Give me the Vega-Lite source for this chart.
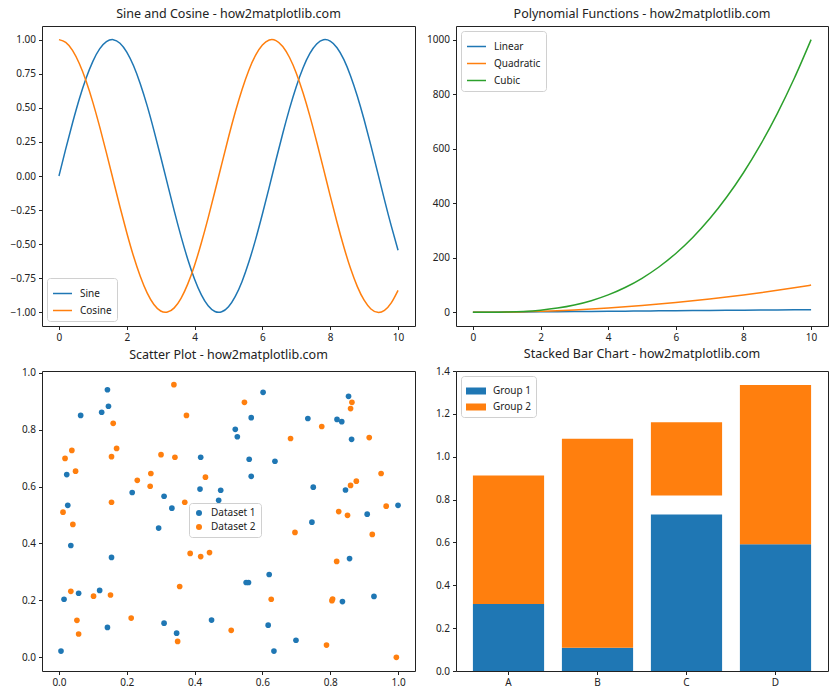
{
  "$schema": "https://vega.github.io/schema/vega-lite/v6.json",
  "padding": {"left": 9, "top": 7, "right": 5, "bottom": 5},
  "background": "white",
  "config": {
    "font": "Noto Sans",
    "view": {"stroke": "#222", "strokeWidth": 1},
    "axis": {"domain": false, "grid": false, "tickColor": "#222", "tickSize": 3.5, "labelFontSize": 10, "labelColor": "#222", "labelPadding": 3, "labelOverlap": false, "labelFlush": false},
    "title": {"fontSize": 12.5, "fontWeight": "normal", "offset": 6, "color": "#222"},
    "legend": {"fillColor": "rgba(255,255,255,0.8)", "strokeColor": "#d0d0d0", "cornerRadius": 3, "padding": 5, "labelFontSize": 10, "labelColor": "#222", "symbolStrokeWidth": 1.5, "rowPadding": 1, "labelOffset": 7}
  },
  "bounds": "flush",
  "columns": 2,
  "spacing": {"row": 45, "column": 41},
  "resolve": {"scale": {"color": "independent", "x": "independent", "y": "independent"}, "legend": {"color": "independent"}},
  "concat": [
        {
          "width": 373, "height": 300,
          "title": "Sine and Cosine - how2matplotlib.com",
          "data": {"values": [
            {"x":0.0,"Sine":0.0,"Cosine":1.0},{"x":0.2,"Sine":0.199,"Cosine":0.980},{"x":0.4,"Sine":0.389,"Cosine":0.921},{"x":0.6,"Sine":0.565,"Cosine":0.825},{"x":0.8,"Sine":0.717,"Cosine":0.697},
            {"x":1.0,"Sine":0.841,"Cosine":0.540},{"x":1.2,"Sine":0.932,"Cosine":0.362},{"x":1.4,"Sine":0.985,"Cosine":0.170},{"x":1.6,"Sine":1.000,"Cosine":-0.029},{"x":1.8,"Sine":0.974,"Cosine":-0.227},
            {"x":2.0,"Sine":0.909,"Cosine":-0.416},{"x":2.2,"Sine":0.808,"Cosine":-0.589},{"x":2.4,"Sine":0.675,"Cosine":-0.737},{"x":2.6,"Sine":0.516,"Cosine":-0.857},{"x":2.8,"Sine":0.335,"Cosine":-0.942},
            {"x":3.0,"Sine":0.141,"Cosine":-0.990},{"x":3.2,"Sine":-0.058,"Cosine":-0.998},{"x":3.4,"Sine":-0.256,"Cosine":-0.967},{"x":3.6,"Sine":-0.443,"Cosine":-0.897},{"x":3.8,"Sine":-0.612,"Cosine":-0.791},
            {"x":4.0,"Sine":-0.757,"Cosine":-0.654},{"x":4.2,"Sine":-0.872,"Cosine":-0.490},{"x":4.4,"Sine":-0.952,"Cosine":-0.307},{"x":4.6,"Sine":-0.994,"Cosine":-0.112},{"x":4.8,"Sine":-0.996,"Cosine":0.087},
            {"x":5.0,"Sine":-0.959,"Cosine":0.284},{"x":5.2,"Sine":-0.883,"Cosine":0.469},{"x":5.4,"Sine":-0.773,"Cosine":0.635},{"x":5.6,"Sine":-0.631,"Cosine":0.776},{"x":5.8,"Sine":-0.465,"Cosine":0.886},
            {"x":6.0,"Sine":-0.279,"Cosine":0.960},{"x":6.2,"Sine":-0.083,"Cosine":0.997},{"x":6.4,"Sine":0.117,"Cosine":0.993},{"x":6.6,"Sine":0.312,"Cosine":0.950},{"x":6.8,"Sine":0.494,"Cosine":0.869},
            {"x":7.0,"Sine":0.657,"Cosine":0.754},{"x":7.2,"Sine":0.794,"Cosine":0.608},{"x":7.4,"Sine":0.899,"Cosine":0.439},{"x":7.6,"Sine":0.968,"Cosine":0.251},{"x":7.8,"Sine":0.999,"Cosine":0.054},
            {"x":8.0,"Sine":0.989,"Cosine":-0.146},{"x":8.2,"Sine":0.941,"Cosine":-0.339},{"x":8.4,"Sine":0.855,"Cosine":-0.519},{"x":8.6,"Sine":0.734,"Cosine":-0.679},{"x":8.8,"Sine":0.585,"Cosine":-0.811},
            {"x":9.0,"Sine":0.412,"Cosine":-0.911},{"x":9.2,"Sine":0.223,"Cosine":-0.975},{"x":9.4,"Sine":0.025,"Cosine":-1.000},{"x":9.6,"Sine":-0.175,"Cosine":-0.985},{"x":9.8,"Sine":-0.366,"Cosine":-0.931},
            {"x":10.0,"Sine":-0.544,"Cosine":-0.839}
          ]},
          "transform": [{"fold": ["Sine", "Cosine"], "as": ["series", "value"]}],
          "mark": {"type": "line", "interpolate": "natural", "strokeWidth": 1.5},
          "encoding": {
            "x": {"field": "x", "type": "quantitative", "scale": {"domain": [-0.5, 10.5], "nice": false, "zero": false}, "axis": {"title": null, "values": [0, 2, 4, 6, 8, 10], "format": "d"}},
            "y": {"field": "value", "type": "quantitative", "scale": {"domain": [-1.1, 1.1], "nice": false, "zero": false}, "axis": {"title": null, "values": [-1, -0.75, -0.5, -0.25, 0, 0.25, 0.5, 0.75, 1], "format": ".2f"}},
            "color": {"field": "series", "type": "nominal", "scale": {"domain": ["Sine", "Cosine"], "range": ["#1f77b4", "#ff7f0e"]}, "legend": {"title": null, "orient": "bottom-left", "offset": 5, "symbolType": "stroke", "symbolSize": 360}}
          }
        },
        {
          "width": 372, "height": 300,
          "title": "Polynomial Functions - how2matplotlib.com",
          "data": {"values": [
            {"x":0,"Linear":0,"Quadratic":0,"Cubic":0},{"x":0.5,"Linear":0.5,"Quadratic":0.25,"Cubic":0.125},{"x":1,"Linear":1,"Quadratic":1,"Cubic":1},
            {"x":1.5,"Linear":1.5,"Quadratic":2.25,"Cubic":3.375},{"x":2,"Linear":2,"Quadratic":4,"Cubic":8},{"x":2.5,"Linear":2.5,"Quadratic":6.25,"Cubic":15.625},
            {"x":3,"Linear":3,"Quadratic":9,"Cubic":27},{"x":3.5,"Linear":3.5,"Quadratic":12.25,"Cubic":42.875},{"x":4,"Linear":4,"Quadratic":16,"Cubic":64},
            {"x":4.5,"Linear":4.5,"Quadratic":20.25,"Cubic":91.125},{"x":5,"Linear":5,"Quadratic":25,"Cubic":125},{"x":5.5,"Linear":5.5,"Quadratic":30.25,"Cubic":166.375},
            {"x":6,"Linear":6,"Quadratic":36,"Cubic":216},{"x":6.5,"Linear":6.5,"Quadratic":42.25,"Cubic":274.625},{"x":7,"Linear":7,"Quadratic":49,"Cubic":343},
            {"x":7.5,"Linear":7.5,"Quadratic":56.25,"Cubic":421.875},{"x":8,"Linear":8,"Quadratic":64,"Cubic":512},{"x":8.5,"Linear":8.5,"Quadratic":72.25,"Cubic":614.125},
            {"x":9,"Linear":9,"Quadratic":81,"Cubic":729},{"x":9.5,"Linear":9.5,"Quadratic":90.25,"Cubic":857.375},{"x":10,"Linear":10,"Quadratic":100,"Cubic":1000}
          ]},
          "transform": [{"fold": ["Linear", "Quadratic", "Cubic"], "as": ["series", "value"]}],
          "mark": {"type": "line", "interpolate": "monotone", "strokeWidth": 1.5},
          "encoding": {
            "x": {"field": "x", "type": "quantitative", "scale": {"domain": [-0.5, 10.5], "nice": false, "zero": false}, "axis": {"title": null, "values": [0, 2, 4, 6, 8, 10], "format": "d"}},
            "y": {"field": "value", "type": "quantitative", "scale": {"domain": [-50, 1050], "nice": false, "zero": false}, "axis": {"title": null, "values": [0, 200, 400, 600, 800, 1000], "format": "d"}},
            "color": {"field": "series", "type": "nominal", "scale": {"domain": ["Linear", "Quadratic", "Cubic"], "range": ["#1f77b4", "#ff7f0e", "#2ca02c"]}, "legend": {"title": null, "orient": "top-left", "offset": 5, "symbolType": "stroke", "symbolSize": 360}}
          }
        },
        {
          "width": 373, "height": 300,
          "title": "Scatter Plot - how2matplotlib.com",
          "data": {"values": [
            {"x":0.143,"y":0.940,"d":"Dataset 1"},{"x":0.146,"y":0.882,"d":"Dataset 1"},{"x":0.126,"y":0.861,"d":"Dataset 1"},{"x":0.064,"y":0.850,"d":"Dataset 1"},{"x":0.418,"y":0.703,"d":"Dataset 1"},
            {"x":0.023,"y":0.642,"d":"Dataset 1"},{"x":0.416,"y":0.591,"d":"Dataset 1"},{"x":0.477,"y":0.587,"d":"Dataset 1"},{"x":0.216,"y":0.579,"d":"Dataset 1"},{"x":0.310,"y":0.566,"d":"Dataset 1"},
            {"x":0.471,"y":0.552,"d":"Dataset 1"},{"x":0.333,"y":0.524,"d":"Dataset 1"},{"x":0.026,"y":0.534,"d":"Dataset 1"},{"x":0.602,"y":0.931,"d":"Dataset 1"},{"x":0.854,"y":0.917,"d":"Dataset 1"},
            {"x":0.567,"y":0.842,"d":"Dataset 1"},{"x":0.734,"y":0.839,"d":"Dataset 1"},{"x":0.820,"y":0.836,"d":"Dataset 1"},{"x":0.834,"y":0.828,"d":"Dataset 1"},{"x":0.520,"y":0.801,"d":"Dataset 1"},
            {"x":0.526,"y":0.775,"d":"Dataset 1"},{"x":0.863,"y":0.766,"d":"Dataset 1"},{"x":0.561,"y":0.696,"d":"Dataset 1"},{"x":0.637,"y":0.689,"d":"Dataset 1"},{"x":0.567,"y":0.636,"d":"Dataset 1"},
            {"x":0.750,"y":0.598,"d":"Dataset 1"},{"x":0.845,"y":0.588,"d":"Dataset 1"},{"x":1.000,"y":0.534,"d":"Dataset 1"},{"x":0.909,"y":0.503,"d":"Dataset 1"},{"x":0.294,"y":0.454,"d":"Dataset 1"},
            {"x":0.035,"y":0.393,"d":"Dataset 1"},{"x":0.155,"y":0.351,"d":"Dataset 1"},{"x":0.015,"y":0.204,"d":"Dataset 1"},{"x":0.058,"y":0.225,"d":"Dataset 1"},{"x":0.120,"y":0.235,"d":"Dataset 1"},
            {"x":0.143,"y":0.105,"d":"Dataset 1"},{"x":0.310,"y":0.120,"d":"Dataset 1"},{"x":0.347,"y":0.085,"d":"Dataset 1"},{"x":0.450,"y":0.131,"d":"Dataset 1"},{"x":0.006,"y":0.022,"d":"Dataset 1"},
            {"x":0.746,"y":0.475,"d":"Dataset 1"},{"x":0.857,"y":0.347,"d":"Dataset 1"},{"x":0.620,"y":0.291,"d":"Dataset 1"},{"x":0.552,"y":0.263,"d":"Dataset 1"},{"x":0.559,"y":0.263,"d":"Dataset 1"},
            {"x":0.929,"y":0.214,"d":"Dataset 1"},{"x":0.836,"y":0.196,"d":"Dataset 1"},{"x":0.617,"y":0.113,"d":"Dataset 1"},{"x":0.699,"y":0.060,"d":"Dataset 1"},{"x":0.634,"y":0.022,"d":"Dataset 1"},
            {"x":0.339,"y":0.958,"d":"Dataset 2"},{"x":0.376,"y":0.850,"d":"Dataset 2"},{"x":0.160,"y":0.822,"d":"Dataset 2"},{"x":0.038,"y":0.727,"d":"Dataset 2"},{"x":0.170,"y":0.734,"d":"Dataset 2"},
            {"x":0.018,"y":0.699,"d":"Dataset 2"},{"x":0.155,"y":0.705,"d":"Dataset 2"},{"x":0.301,"y":0.712,"d":"Dataset 2"},{"x":0.342,"y":0.703,"d":"Dataset 2"},{"x":0.049,"y":0.654,"d":"Dataset 2"},
            {"x":0.432,"y":0.633,"d":"Dataset 2"},{"x":0.271,"y":0.646,"d":"Dataset 2"},{"x":0.231,"y":0.622,"d":"Dataset 2"},{"x":0.269,"y":0.601,"d":"Dataset 2"},{"x":0.155,"y":0.545,"d":"Dataset 2"},
            {"x":0.371,"y":0.545,"d":"Dataset 2"},{"x":0.012,"y":0.510,"d":"Dataset 2"},{"x":0.547,"y":0.896,"d":"Dataset 2"},{"x":0.864,"y":0.896,"d":"Dataset 2"},{"x":0.860,"y":0.874,"d":"Dataset 2"},
            {"x":0.775,"y":0.811,"d":"Dataset 2"},{"x":0.683,"y":0.769,"d":"Dataset 2"},{"x":0.915,"y":0.772,"d":"Dataset 2"},{"x":0.950,"y":0.646,"d":"Dataset 2"},{"x":0.877,"y":0.619,"d":"Dataset 2"},
            {"x":0.860,"y":0.604,"d":"Dataset 2"},{"x":0.965,"y":0.531,"d":"Dataset 2"},{"x":0.825,"y":0.512,"d":"Dataset 2"},{"x":0.851,"y":0.499,"d":"Dataset 2"},{"x":0.041,"y":0.467,"d":"Dataset 2"},
            {"x":0.387,"y":0.365,"d":"Dataset 2"},{"x":0.418,"y":0.354,"d":"Dataset 2"},{"x":0.444,"y":0.368,"d":"Dataset 2"},{"x":0.356,"y":0.249,"d":"Dataset 2"},{"x":0.035,"y":0.232,"d":"Dataset 2"},
            {"x":0.102,"y":0.215,"d":"Dataset 2"},{"x":0.152,"y":0.219,"d":"Dataset 2"},{"x":0.213,"y":0.138,"d":"Dataset 2"},{"x":0.053,"y":0.130,"d":"Dataset 2"},{"x":0.058,"y":0.082,"d":"Dataset 2"},
            {"x":0.350,"y":0.056,"d":"Dataset 2"},{"x":0.508,"y":0.095,"d":"Dataset 2"},{"x":0.696,"y":0.439,"d":"Dataset 2"},{"x":0.924,"y":0.432,"d":"Dataset 2"},{"x":0.819,"y":0.337,"d":"Dataset 2"},
            {"x":0.626,"y":0.204,"d":"Dataset 2"},{"x":0.805,"y":0.199,"d":"Dataset 2"},{"x":0.807,"y":0.205,"d":"Dataset 2"},{"x":0.789,"y":0.043,"d":"Dataset 2"},{"x":0.995,"y":0.000,"d":"Dataset 2"}
          ]},
          "mark": {"type": "circle", "size": 32, "opacity": 1},
          "encoding": {
            "x": {"field": "x", "type": "quantitative", "scale": {"domain": [-0.05, 1.05], "nice": false, "zero": false}, "axis": {"title": null, "values": [0, 0.2, 0.4, 0.6, 0.8, 1.0], "format": ".1f"}},
            "y": {"field": "y", "type": "quantitative", "scale": {"domain": [-0.048, 1.006], "nice": false, "zero": false}, "axis": {"title": null, "values": [0, 0.2, 0.4, 0.6, 0.8, 1.0], "format": ".1f"}},
            "color": {"field": "d", "type": "nominal", "scale": {"domain": ["Dataset 1", "Dataset 2"], "range": ["#1f77b4", "#ff7f0e"]}, "legend": {"title": null, "orient": "none", "legendX": 147, "legendY": 132, "symbolType": "circle", "symbolSize": 36, "rowPadding": 4}}
          }
        },
        {
          "width": 372, "height": 300,
          "title": "Stacked Bar Chart - how2matplotlib.com",
          "data": {"values": [
            {"category":"A","group":"Group 1","low":0,"high":0.313},
            {"category":"B","group":"Group 1","low":0,"high":0.109},
            {"category":"C","group":"Group 1","low":0,"high":0.730},
            {"category":"D","group":"Group 1","low":0,"high":0.591},
            {"category":"A","group":"Group 2","low":0.313,"high":0.912},
            {"category":"B","group":"Group 2","low":0.109,"high":1.084},
            {"category":"C","group":"Group 2","low":0.819,"high":1.161},
            {"category":"D","group":"Group 2","low":0.591,"high":1.335}
          ]},
          "mark": {"type": "bar"},
          "encoding": {
            "x": {"field": "category", "type": "nominal", "scale": {"paddingInner": 0.2, "paddingOuter": 0.19}, "axis": {"title": null, "labelAngle": 0}},
            "y": {"field": "high", "type": "quantitative", "scale": {"domain": [0, 1.4], "nice": false}, "axis": {"title": null, "values": [0, 0.2, 0.4, 0.6, 0.8, 1.0, 1.2, 1.4], "format": ".1f"}},
            "y2": {"field": "low"},
            "color": {"field": "group", "type": "nominal", "scale": {"domain": ["Group 1", "Group 2"], "range": ["#1f77b4", "#ff7f0e"]}, "legend": {"title": null, "orient": "top-left", "offset": 5, "symbolType": "M-1,-0.35L1,-0.35L1,0.35L-1,0.35Z", "symbolSize": 400, "symbolStrokeWidth": 0}}
          }
        }
  ]
}
